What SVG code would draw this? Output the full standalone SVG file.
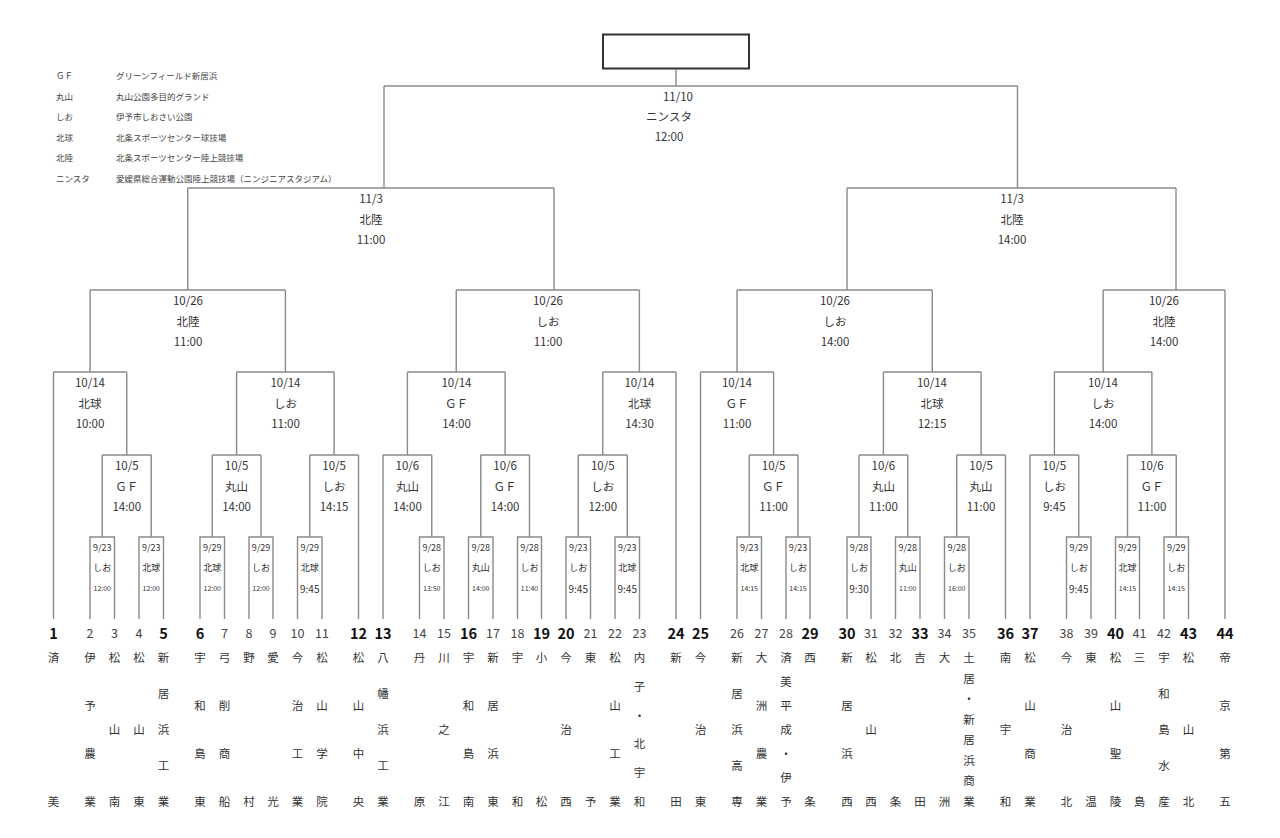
<svg xmlns="http://www.w3.org/2000/svg" width="1280" height="838" viewBox="0 0 1280 838">
<style>
text{font-family:"Noto Sans CJK JP","Noto Sans",sans-serif;text-anchor:middle;dominant-baseline:central;fill:#333}
.ln{fill:none;stroke:#8a8a8a;stroke-width:1.4}
.lb{font-size:11.5px}
.r1{font-size:9px}
.ts{font-size:7px}
.tl{font-size:10px}
.n{font-size:12.5px;fill:#444}
.nb{font-size:14.5px;font-weight:700;fill:#111}
.nm{font-size:11.5px;fill:#333}
.lg{font-size:8.5px;text-anchor:start;fill:#444}
</style>
<rect width="1280" height="838" fill="#fff"/>
<g id="legend">
<text class="lg" x="56" y="75">ＧＦ</text><text class="lg" x="116" y="75">グリーンフィールド新居浜</text>
<text class="lg" x="56" y="95.5">丸山</text><text class="lg" x="116" y="95.5">丸山公園多目的グランド</text>
<text class="lg" x="56" y="116">しお</text><text class="lg" x="116" y="116">伊予市しおさい公園</text>
<text class="lg" x="56" y="136.5">北球</text><text class="lg" x="116" y="136.5">北条スポーツセンター球技場</text>
<text class="lg" x="56" y="157">北陸</text><text class="lg" x="116" y="157">北条スポーツセンター陸上競技場</text>
<text class="lg" x="56" y="178">ニンスタ</text><text class="lg" x="116" y="178">愛媛県総合運動公園陸上競技場（ニンジニアスタジアム）</text>
</g>
<g id="connectors" class="ln">
<rect x="603" y="34.5" width="146" height="34" stroke="#333" stroke-width="2"/>
<path d="M676 69V86M384 86H1017.5M384 86V188M1017.5 86V188"/>
<path d="M187.75 188H554M847 188H1176M187.75 188V290M554 188V290M847 188V290M1176 188V290"/>
<path d="M90.1 290H285.4M456.25 290H639.4M737.05 290H932.25M1103.15 290H1225"/>
<path d="M90.1 290V372M285.4 290V372M456.25 290V372M639.4 290V372M737.05 290V372M932.25 290V372M1103.15 290V372"/>
<path d="M53.5 372H126.75M236.6 372H334.1M407.4 372H505.1M602.75 372H676M700.5 372H773.6M883.4 372H981.1M1054.4 372H1151.9"/>
<path d="M126.75 372V455M236.6 372V455M334.1 372V455M407.4 372V455M505.1 372V455M602.75 372V455M773.6 372V455M883.4 372V455M981.1 372V455M1054.4 372V455M1151.9 372V455"/>
<path d="M102.25 455H151.25M212.25 455H261M309.75 455H358.5M383 455H431.75M480.75 455H529.5M578.25 455H627.25M749.25 455H798M859 455H907.75M956.75 455H1005.5M1030 455H1078.75M1127.5 455H1176.25"/>
<path d="M53.5 619V372M358.5 619V455M383 619V455M676 619V372M700.5 619V372M1005.5 619V455M1030 619V455M1225 619V290"/>
<path d="M90 619V537H114.5V619M102.25 537V455
M139 619V537H163.5V619M151.25 537V455
M200 619V537H224.5V619M212.25 537V455
M249 619V537H273V619M261 537V455
M297.5 619V537H322V619M309.75 537V455
M419.5 619V537H444V619M431.75 537V455
M468.5 619V537H493V619M480.75 537V455
M517.5 619V537H541.5V619M529.5 537V455
M566 619V537H590.5V619M578.25 537V455
M615 619V537H639.5V619M627.25 537V455
M737 619V537H761.5V619M749.25 537V455
M786 619V537H810V619M798 537V455
M847 619V537H871V619M859 537V455
M895.5 619V537H920V619M907.75 537V455
M944.5 619V537H969V619M956.75 537V455
M1066.5 619V537H1091V619M1078.75 537V455
M1115.5 619V537H1139.5V619M1127.5 537V455
M1164 619V537H1188.5V619M1176.25 537V455"/>
</g>
<g id="final" class="lb"><text x="678" y="96">11/10</text><text x="669" y="116">ニンスタ</text><text x="669" y="136">12:00</text></g>
<g id="sf1" class="lb"><text x="371" y="198">11/3</text><text x="371" y="218.5">北陸</text><text x="371" y="239">11:00</text></g>
<g id="sf2" class="lb"><text x="1012" y="198">11/3</text><text x="1012" y="218.5">北陸</text><text x="1012" y="239">14:00</text></g>
<g id="qf1" class="lb"><text x="188" y="300">10/26</text><text x="188" y="320.5">北陸</text><text x="188" y="341">11:00</text></g>
<g id="qf2" class="lb"><text x="548" y="300">10/26</text><text x="548" y="320.5">しお</text><text x="548" y="341">11:00</text></g>
<g id="qf3" class="lb"><text x="835" y="300">10/26</text><text x="835" y="320.5">しお</text><text x="835" y="341">14:00</text></g>
<g id="qf4" class="lb"><text x="1164" y="300">10/26</text><text x="1164" y="320.5">北陸</text><text x="1164" y="341">14:00</text></g>
<g id="r16-1" class="lb"><text x="90" y="382">10/14</text><text x="90" y="402.5">北球</text><text x="90" y="423">10:00</text></g>
<g id="r16-2" class="lb"><text x="285.5" y="382">10/14</text><text x="285.5" y="402.5">しお</text><text x="285.5" y="423">11:00</text></g>
<g id="r16-3" class="lb"><text x="456.5" y="382">10/14</text><text x="456.5" y="402.5">ＧＦ</text><text x="456.5" y="423">14:00</text></g>
<g id="r16-4" class="lb"><text x="639.5" y="382">10/14</text><text x="639.5" y="402.5">北球</text><text x="639.5" y="423">14:30</text></g>
<g id="r16-5" class="lb"><text x="737" y="382">10/14</text><text x="737" y="402.5">ＧＦ</text><text x="737" y="423">11:00</text></g>
<g id="r16-6" class="lb"><text x="932" y="382">10/14</text><text x="932" y="402.5">北球</text><text x="932" y="423">12:15</text></g>
<g id="r16-7" class="lb"><text x="1103" y="382">10/14</text><text x="1103" y="402.5">しお</text><text x="1103" y="423">14:00</text></g>
<g id="r32-a" class="lb"><text x="126.75" y="465">10/5</text><text x="126.75" y="485.5">ＧＦ</text><text x="126.75" y="506">14:00</text></g>
<g id="r32-b" class="lb"><text x="236.6" y="465">10/5</text><text x="236.6" y="485.5">丸山</text><text x="236.6" y="506">14:00</text></g>
<g id="r32-c" class="lb"><text x="334.1" y="465">10/5</text><text x="334.1" y="485.5">しお</text><text x="334.1" y="506">14:15</text></g>
<g id="r32-d" class="lb"><text x="407.4" y="465">10/6</text><text x="407.4" y="485.5">丸山</text><text x="407.4" y="506">14:00</text></g>
<g id="r32-e" class="lb"><text x="505.1" y="465">10/6</text><text x="505.1" y="485.5">ＧＦ</text><text x="505.1" y="506">14:00</text></g>
<g id="r32-f" class="lb"><text x="602.75" y="465">10/5</text><text x="602.75" y="485.5">しお</text><text x="602.75" y="506">12:00</text></g>
<g id="r32-g" class="lb"><text x="773.6" y="465">10/5</text><text x="773.6" y="485.5">ＧＦ</text><text x="773.6" y="506">11:00</text></g>
<g id="r32-h" class="lb"><text x="883.4" y="465">10/6</text><text x="883.4" y="485.5">丸山</text><text x="883.4" y="506">11:00</text></g>
<g id="r32-i" class="lb"><text x="981.1" y="465">10/5</text><text x="981.1" y="485.5">丸山</text><text x="981.1" y="506">11:00</text></g>
<g id="r32-j" class="lb"><text x="1054.4" y="465">10/5</text><text x="1054.4" y="485.5">しお</text><text x="1054.4" y="506">9:45</text></g>
<g id="r32-k" class="lb"><text x="1151.9" y="465">10/6</text><text x="1151.9" y="485.5">ＧＦ</text><text x="1151.9" y="506">11:00</text></g>
<g id="r1-1" class="r1"><text x="102.25" y="547">9/23</text><text x="102.25" y="567.5">しお</text><text class="ts" x="102.25" y="588">12:00</text></g>
<g id="r1-2" class="r1"><text x="151.25" y="547">9/23</text><text x="151.25" y="567.5">北球</text><text class="ts" x="151.25" y="588">12:00</text></g>
<g id="r1-3" class="r1"><text x="212.25" y="547">9/29</text><text x="212.25" y="567.5">北球</text><text class="ts" x="212.25" y="588">12:00</text></g>
<g id="r1-4" class="r1"><text x="261" y="547">9/29</text><text x="261" y="567.5">しお</text><text class="ts" x="261" y="588">12:00</text></g>
<g id="r1-5" class="r1"><text x="309.75" y="547">9/29</text><text x="309.75" y="567.5">北球</text><text class="tl" x="309.75" y="588">9:45</text></g>
<g id="r1-6" class="r1"><text x="431.75" y="547">9/28</text><text x="431.75" y="567.5">しお</text><text class="ts" x="431.75" y="588">13:50</text></g>
<g id="r1-7" class="r1"><text x="480.75" y="547">9/28</text><text x="480.75" y="567.5">丸山</text><text class="ts" x="480.75" y="588">14:00</text></g>
<g id="r1-8" class="r1"><text x="529.5" y="547">9/28</text><text x="529.5" y="567.5">しお</text><text class="ts" x="529.5" y="588">11:40</text></g>
<g id="r1-9" class="r1"><text x="578.25" y="547">9/23</text><text x="578.25" y="567.5">しお</text><text class="tl" x="578.25" y="588">9:45</text></g>
<g id="r1-10" class="r1"><text x="627.25" y="547">9/23</text><text x="627.25" y="567.5">北球</text><text class="tl" x="627.25" y="588">9:45</text></g>
<g id="r1-11" class="r1"><text x="749.25" y="547">9/23</text><text x="749.25" y="567.5">北球</text><text class="ts" x="749.25" y="588">14:15</text></g>
<g id="r1-12" class="r1"><text x="798" y="547">9/23</text><text x="798" y="567.5">しお</text><text class="ts" x="798" y="588">14:15</text></g>
<g id="r1-13" class="r1"><text x="859" y="547">9/28</text><text x="859" y="567.5">しお</text><text class="tl" x="859" y="588">9:30</text></g>
<g id="r1-14" class="r1"><text x="907.75" y="547">9/28</text><text x="907.75" y="567.5">丸山</text><text class="ts" x="907.75" y="588">11:00</text></g>
<g id="r1-15" class="r1"><text x="956.75" y="547">9/28</text><text x="956.75" y="567.5">しお</text><text class="ts" x="956.75" y="588">16:00</text></g>
<g id="r1-16" class="r1"><text x="1078.75" y="547">9/29</text><text x="1078.75" y="567.5">しお</text><text class="tl" x="1078.75" y="588">9:45</text></g>
<g id="r1-17" class="r1"><text x="1127.5" y="547">9/29</text><text x="1127.5" y="567.5">北球</text><text class="ts" x="1127.5" y="588">14:15</text></g>
<g id="r1-18" class="r1"><text x="1176.25" y="547">9/29</text><text x="1176.25" y="567.5">しお</text><text class="ts" x="1176.25" y="588">14:15</text></g>
<g id="team1"><text class="nb" x="53.5" y="632">1</text><text class="nm"><tspan x="53.5" y="657">済</tspan><tspan x="53.5" y="801">美</tspan></text></g>
<g id="team2"><text class="n" x="90" y="632">2</text><text class="nm"><tspan x="90" y="657">伊</tspan><tspan x="90" y="705">予</tspan><tspan x="90" y="753">農</tspan><tspan x="90" y="801">業</tspan></text></g>
<g id="team3"><text class="n" x="114.5" y="632">3</text><text class="nm"><tspan x="114.5" y="657">松</tspan><tspan x="114.5" y="729">山</tspan><tspan x="114.5" y="801">南</tspan></text></g>
<g id="team4"><text class="n" x="139" y="632">4</text><text class="nm"><tspan x="139" y="657">松</tspan><tspan x="139" y="729">山</tspan><tspan x="139" y="801">東</tspan></text></g>
<g id="team5"><text class="nb" x="163.5" y="632">5</text><text class="nm"><tspan x="163.5" y="657">新</tspan><tspan x="163.5" y="693">居</tspan><tspan x="163.5" y="729">浜</tspan><tspan x="163.5" y="765">工</tspan><tspan x="163.5" y="801">業</tspan></text></g>
<g id="team6"><text class="nb" x="200" y="632">6</text><text class="nm"><tspan x="200" y="657">宇</tspan><tspan x="200" y="705">和</tspan><tspan x="200" y="753">島</tspan><tspan x="200" y="801">東</tspan></text></g>
<g id="team7"><text class="n" x="224.5" y="632">7</text><text class="nm"><tspan x="224.5" y="657">弓</tspan><tspan x="224.5" y="705">削</tspan><tspan x="224.5" y="753">商</tspan><tspan x="224.5" y="801">船</tspan></text></g>
<g id="team8"><text class="n" x="249" y="632">8</text><text class="nm"><tspan x="249" y="657">野</tspan><tspan x="249" y="801">村</tspan></text></g>
<g id="team9"><text class="n" x="273" y="632">9</text><text class="nm"><tspan x="273" y="657">愛</tspan><tspan x="273" y="801">光</tspan></text></g>
<g id="team10"><text class="n" x="297.5" y="632">10</text><text class="nm"><tspan x="297.5" y="657">今</tspan><tspan x="297.5" y="705">治</tspan><tspan x="297.5" y="753">工</tspan><tspan x="297.5" y="801">業</tspan></text></g>
<g id="team11"><text class="n" x="322" y="632">11</text><text class="nm"><tspan x="322" y="657">松</tspan><tspan x="322" y="705">山</tspan><tspan x="322" y="753">学</tspan><tspan x="322" y="801">院</tspan></text></g>
<g id="team12"><text class="nb" x="358.5" y="632">12</text><text class="nm"><tspan x="358.5" y="657">松</tspan><tspan x="358.5" y="705">山</tspan><tspan x="358.5" y="753">中</tspan><tspan x="358.5" y="801">央</tspan></text></g>
<g id="team13"><text class="nb" x="383" y="632">13</text><text class="nm"><tspan x="383" y="657">八</tspan><tspan x="383" y="693">幡</tspan><tspan x="383" y="729">浜</tspan><tspan x="383" y="765">工</tspan><tspan x="383" y="801">業</tspan></text></g>
<g id="team14"><text class="n" x="419.5" y="632">14</text><text class="nm"><tspan x="419.5" y="657">丹</tspan><tspan x="419.5" y="801">原</tspan></text></g>
<g id="team15"><text class="n" x="444" y="632">15</text><text class="nm"><tspan x="444" y="657">川</tspan><tspan x="444" y="729">之</tspan><tspan x="444" y="801">江</tspan></text></g>
<g id="team16"><text class="nb" x="468.5" y="632">16</text><text class="nm"><tspan x="468.5" y="657">宇</tspan><tspan x="468.5" y="705">和</tspan><tspan x="468.5" y="753">島</tspan><tspan x="468.5" y="801">南</tspan></text></g>
<g id="team17"><text class="n" x="493" y="632">17</text><text class="nm"><tspan x="493" y="657">新</tspan><tspan x="493" y="705">居</tspan><tspan x="493" y="753">浜</tspan><tspan x="493" y="801">東</tspan></text></g>
<g id="team18"><text class="n" x="517.5" y="632">18</text><text class="nm"><tspan x="517.5" y="657">宇</tspan><tspan x="517.5" y="801">和</tspan></text></g>
<g id="team19"><text class="nb" x="541.5" y="632">19</text><text class="nm"><tspan x="541.5" y="657">小</tspan><tspan x="541.5" y="801">松</tspan></text></g>
<g id="team20"><text class="nb" x="566" y="632">20</text><text class="nm"><tspan x="566" y="657">今</tspan><tspan x="566" y="729">治</tspan><tspan x="566" y="801">西</tspan></text></g>
<g id="team21"><text class="n" x="590.5" y="632">21</text><text class="nm"><tspan x="590.5" y="657">東</tspan><tspan x="590.5" y="801">予</tspan></text></g>
<g id="team22"><text class="n" x="615" y="632">22</text><text class="nm"><tspan x="615" y="657">松</tspan><tspan x="615" y="705">山</tspan><tspan x="615" y="753">工</tspan><tspan x="615" y="801">業</tspan></text></g>
<g id="team23"><text class="n" x="639.5" y="632">23</text><text class="nm"><tspan x="639.5" y="657">内</tspan><tspan x="639.5" y="685.8">子</tspan><tspan x="639.5" y="714.6">・</tspan><tspan x="639.5" y="743.4">北</tspan><tspan x="639.5" y="772.2">宇</tspan><tspan x="639.5" y="801">和</tspan></text></g>
<g id="team24"><text class="nb" x="676" y="632">24</text><text class="nm"><tspan x="676" y="657">新</tspan><tspan x="676" y="801">田</tspan></text></g>
<g id="team25"><text class="nb" x="700.5" y="632">25</text><text class="nm"><tspan x="700.5" y="657">今</tspan><tspan x="700.5" y="729">治</tspan><tspan x="700.5" y="801">東</tspan></text></g>
<g id="team26"><text class="n" x="737" y="632">26</text><text class="nm"><tspan x="737" y="657">新</tspan><tspan x="737" y="693">居</tspan><tspan x="737" y="729">浜</tspan><tspan x="737" y="765">高</tspan><tspan x="737" y="801">専</tspan></text></g>
<g id="team27"><text class="n" x="761.5" y="632">27</text><text class="nm"><tspan x="761.5" y="657">大</tspan><tspan x="761.5" y="705">洲</tspan><tspan x="761.5" y="753">農</tspan><tspan x="761.5" y="801">業</tspan></text></g>
<g id="team28"><text class="n" x="786" y="632">28</text><text class="nm"><tspan x="786" y="657">済</tspan><tspan x="786" y="681">美</tspan><tspan x="786" y="705">平</tspan><tspan x="786" y="729">成</tspan><tspan x="786" y="753">・</tspan><tspan x="786" y="777">伊</tspan><tspan x="786" y="801">予</tspan></text></g>
<g id="team29"><text class="nb" x="810" y="632">29</text><text class="nm"><tspan x="810" y="657">西</tspan><tspan x="810" y="801">条</tspan></text></g>
<g id="team30"><text class="nb" x="847" y="632">30</text><text class="nm"><tspan x="847" y="657">新</tspan><tspan x="847" y="705">居</tspan><tspan x="847" y="753">浜</tspan><tspan x="847" y="801">西</tspan></text></g>
<g id="team31"><text class="n" x="871" y="632">31</text><text class="nm"><tspan x="871" y="657">松</tspan><tspan x="871" y="729">山</tspan><tspan x="871" y="801">西</tspan></text></g>
<g id="team32"><text class="n" x="895.5" y="632">32</text><text class="nm"><tspan x="895.5" y="657">北</tspan><tspan x="895.5" y="801">条</tspan></text></g>
<g id="team33"><text class="nb" x="920" y="632">33</text><text class="nm"><tspan x="920" y="657">吉</tspan><tspan x="920" y="801">田</tspan></text></g>
<g id="team34"><text class="n" x="944.5" y="632">34</text><text class="nm"><tspan x="944.5" y="657">大</tspan><tspan x="944.5" y="801">洲</tspan></text></g>
<g id="team35"><text class="n" x="969" y="632">35</text><text class="nm"><tspan x="969" y="657">土</tspan><tspan x="969" y="677.6">居</tspan><tspan x="969" y="698.1">・</tspan><tspan x="969" y="718.7">新</tspan><tspan x="969" y="739.3">居</tspan><tspan x="969" y="759.9">浜</tspan><tspan x="969" y="780.4">商</tspan><tspan x="969" y="801">業</tspan></text></g>
<g id="team36"><text class="nb" x="1005.5" y="632">36</text><text class="nm"><tspan x="1005.5" y="657">南</tspan><tspan x="1005.5" y="729">宇</tspan><tspan x="1005.5" y="801">和</tspan></text></g>
<g id="team37"><text class="nb" x="1030" y="632">37</text><text class="nm"><tspan x="1030" y="657">松</tspan><tspan x="1030" y="705">山</tspan><tspan x="1030" y="753">商</tspan><tspan x="1030" y="801">業</tspan></text></g>
<g id="team38"><text class="n" x="1066.5" y="632">38</text><text class="nm"><tspan x="1066.5" y="657">今</tspan><tspan x="1066.5" y="729">治</tspan><tspan x="1066.5" y="801">北</tspan></text></g>
<g id="team39"><text class="n" x="1091" y="632">39</text><text class="nm"><tspan x="1091" y="657">東</tspan><tspan x="1091" y="801">温</tspan></text></g>
<g id="team40"><text class="nb" x="1115.5" y="632">40</text><text class="nm"><tspan x="1115.5" y="657">松</tspan><tspan x="1115.5" y="705">山</tspan><tspan x="1115.5" y="753">聖</tspan><tspan x="1115.5" y="801">陵</tspan></text></g>
<g id="team41"><text class="n" x="1139.5" y="632">41</text><text class="nm"><tspan x="1139.5" y="657">三</tspan><tspan x="1139.5" y="801">島</tspan></text></g>
<g id="team42"><text class="n" x="1164" y="632">42</text><text class="nm"><tspan x="1164" y="657">宇</tspan><tspan x="1164" y="693">和</tspan><tspan x="1164" y="729">島</tspan><tspan x="1164" y="765">水</tspan><tspan x="1164" y="801">産</tspan></text></g>
<g id="team43"><text class="nb" x="1188.5" y="632">43</text><text class="nm"><tspan x="1188.5" y="657">松</tspan><tspan x="1188.5" y="729">山</tspan><tspan x="1188.5" y="801">北</tspan></text></g>
<g id="team44"><text class="nb" x="1225" y="632">44</text><text class="nm"><tspan x="1225" y="657">帝</tspan><tspan x="1225" y="705">京</tspan><tspan x="1225" y="753">第</tspan><tspan x="1225" y="801">五</tspan></text></g>
</svg>
